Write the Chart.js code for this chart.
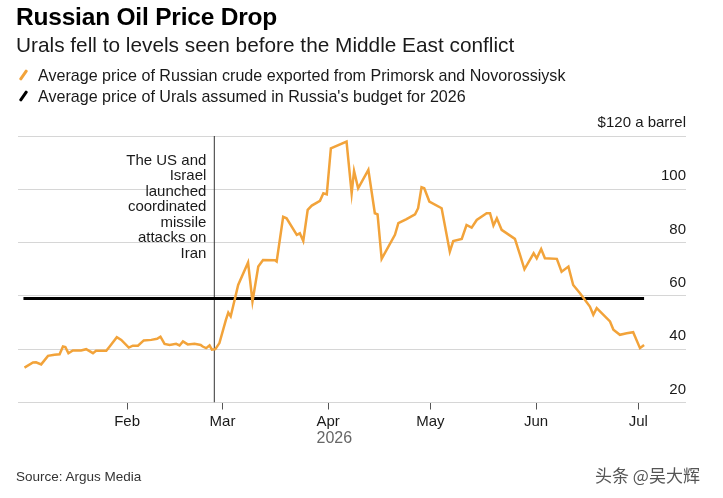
<!DOCTYPE html>
<html>
<head>
<meta charset="utf-8">
<script src="https://cdn.jsdelivr.net/npm/chart.js@4.4.1/dist/chart.umd.min.js"></script>
<style>
  html, body { margin:0; padding:0; background:#fff; }
  #wrap { position:relative; width:723px; height:498px; overflow:hidden; font-family:"Liberation Sans", Arial, sans-serif; color:#1a1a1a; }
  #c { position:absolute; left:0; top:0; }
  .t { position:absolute; white-space:nowrap; }
  #title { left:16px; top:3px; font-size:24.5px; font-weight:bold; color:#000; letter-spacing:-0.2px; }
  #sub { left:16px; top:33px; font-size:20.8px; color:#1a1a1a; }
  .leg { left:38px; font-size:16.1px; color:#1a1a1a; }
  .ico { position:absolute; width:3px; height:12px; border-radius:1px; transform:rotate(35deg); }
  #src { left:16px; top:469px; font-size:13.5px; color:#333; }
  #wm { left:595px; top:462px; font-size:17px; color:#555; font-family:"Noto Sans CJK SC", sans-serif; }
</style>
</head>
<body>
<div id="wrap">
  <canvas id="c" width="723" height="498"></canvas>
  <div class="t" id="title">Russian Oil Price Drop</div>
  <div class="t" id="sub">Urals fell to levels seen before the Middle East conflict</div>
  <div class="ico" style="left:22px; top:69px; background:#f2a33a;"></div>
  <div class="t leg" style="top:66px;">Average price of Russian crude exported from Primorsk and Novorossiysk</div>
  <div class="ico" style="left:22px; top:90px; background:#000;"></div>
  <div class="t leg" style="top:87px;">Average price of Urals assumed in Russia's budget for 2026</div>
  <div class="t" id="src">Source: Argus Media</div>
  <div class="t" id="wm">头条 @吴大辉</div>
</div>
<script>
// x values are day of year 2026 (Jan 1 = 1)
const days = [1.9,4.4,5.3,6.8,8.8,10.7,12.2,13.2,13.9,14.8,16.1,18.5,20.0,22.0,22.9,25.9,26.9,29.0,30.3,32.5,33.7,35.2,36.9,39.1,40.8,41.8,43.0,44.5,46.4,47.4,48.4,49.8,51.8,53.6,54.2,55.2,56.2,56.9,57.9,59.1,
61.0,61.7,62.4,63.1,64.6,67.5,68.8,70.5,71.9,75.4,75.9,77.8,78.8,81.8,82.7,83.7,85.0,86.2,88.6,89.6,90.6,91.8,96.4,97.9,98.6,99.8,102.8,104.7,105.5,106.7,
110.6,111.6,114.0,116.5,117.4,118.4,119.2,120.7,124.3,126.7,127.7,130.2,131.6,133.1,134.6,137.5,138.5,139.5,140.5,141.9,145.8,147.3,148.6,
151.3,152.2,153.5,154.6,158.1,159.5,161.5,162.9,164.9,167.8,168.8,169.8,173.7,174.7,176.6,178.6,180.5,182.5,183.7];
const prices = [33.1,35.0,35.1,34.3,37.5,37.9,38.1,41.0,40.8,38.5,39.5,39.5,40.0,38.5,39.4,39.4,41.0,44.5,43.5,40.6,41.3,41.3,43.3,43.5,43.9,44.7,42.0,41.6,42.0,41.4,42.9,41.8,42.0,41.6,41.0,40.4,41.4,39.8,40.0,42.3,
51.0,53.7,52.3,56.0,64.1,72.5,57.9,71.0,73.5,73.4,72.9,89.7,89.1,82.9,83.5,80.6,92.3,93.9,95.7,98.5,98.1,115.4,117.9,98.5,106.9,100.4,107.3,91.0,90.6,73.9,
82.9,87.3,88.8,90.6,92.9,100.8,100.4,95.4,92.9,76.6,80.6,81.4,86.6,85.6,88.5,91.0,91.0,86.4,89.1,84.8,81.4,75.4,70.0,
76.0,74.1,77.6,74.1,73.9,69.1,71.0,64.1,61.0,56.0,52.9,55.4,50.4,47.3,45.4,46.0,46.4,40.4,41.6];
const budgetDays = [1.6, 183.7];
const budgetPrice = [59, 59];
const eventDay = 57.6;
const eventSpan = [20, 120];
const eventLines = ["The US and","Israel","launched","coordinated","missile","attacks on","Iran"];
const monthTicks = [32, 60, 91, 121, 152, 182];
const monthLabels = ["Feb","Mar","Apr","May","Jun","Jul"];
const yTicks = [20, 40, 60, 80, 100, 120];
const yLabels = ["20","40","60","80","100","$120 a barrel"];
const yearLabel = "2026";

const ORANGE = "#f2a33a";

const textPlugin = {
  id: "annot",
  afterDraw(chart) {
    const ctx = chart.ctx;
    const xs = chart.scales.x, ys = chart.scales.y;
    ctx.save();
    ctx.fillStyle = "#1a1a1a";
    ctx.font = "15px 'Liberation Sans', Arial, sans-serif";
    ctx.textAlign = "right";
    ctx.textBaseline = "middle";
    const ex = xs.getPixelForValue(eventDay) - 8;
    const y0 = ys.getPixelForValue(120) + 24.5;
    eventLines.forEach((l, i) => ctx.fillText(l, ex, y0 + i * 15.5));
    // year label centred under the data span
    ctx.fillStyle = "#666";
    ctx.font = "16px 'Liberation Sans', Arial, sans-serif";
    ctx.textAlign = "center";
    const mid = xs.getPixelForValue((days[0] + days[days.length - 1]) / 2);
    ctx.fillText(yearLabel, mid, ys.getPixelForValue(20) + 36);
    ctx.restore();
  }
};

new Chart(document.getElementById("c"), {
  type: "line",
  data: {
    datasets: [
      {
        data: days.map((d, i) => ({ x: d, y: prices[i] })),
        borderColor: ORANGE, borderWidth: 2.5, pointRadius: 0, tension: 0, order: 1
      },
      {
        data: budgetDays.map((d, i) => ({ x: d, y: budgetPrice[i] })),
        borderColor: "#000", borderWidth: 3, pointRadius: 0, order: 2
      },
      {
        data: eventSpan.map(v => ({ x: eventDay, y: v })),
        borderColor: "#333", borderWidth: 1, pointRadius: 0, order: 3
      }
    ]
  },
  options: {
    responsive: false,
    animation: false,
    devicePixelRatio: 1,
    layout: { padding: { left: 18, right: 37, top: 136, bottom: 64.5 } },
    plugins: { legend: { display: false }, tooltip: { enabled: false } },
    scales: {
      x: {
        type: "linear", min: 0, max: 196,
        afterBuildTicks: (s) => { s.ticks = monthTicks.map(v => ({ value: v })); },
        ticks: {
          autoSkip: false, maxRotation: 0, padding: 3,
          color: "#1a1a1a",
          font: { size: 15, family: "'Liberation Sans', Arial, sans-serif" },
          callback: (v) => monthLabels[monthTicks.indexOf(v)]
        },
        grid: { drawOnChartArea: false, drawTicks: true, tickLength: 7, color: "#555", lineWidth: 1 },
        border: { display: false }
      },
      y: {
        type: "linear", position: "right", min: 20, max: 120,
        afterBuildTicks: (s) => { s.ticks = yTicks.map(v => ({ value: v })); },
        ticks: {
          mirror: true, padding: 0, labelOffset: -13,
          color: "#1a1a1a",
          font: { size: 15, family: "'Liberation Sans', Arial, sans-serif" },
          callback: (v) => yLabels[yTicks.indexOf(v)]
        },
        grid: { color: "#d6d6d6", lineWidth: 1, drawTicks: false },
        border: { display: false }
      }
    }
  },
  plugins: [textPlugin]
});
</script>
</body>
</html>
